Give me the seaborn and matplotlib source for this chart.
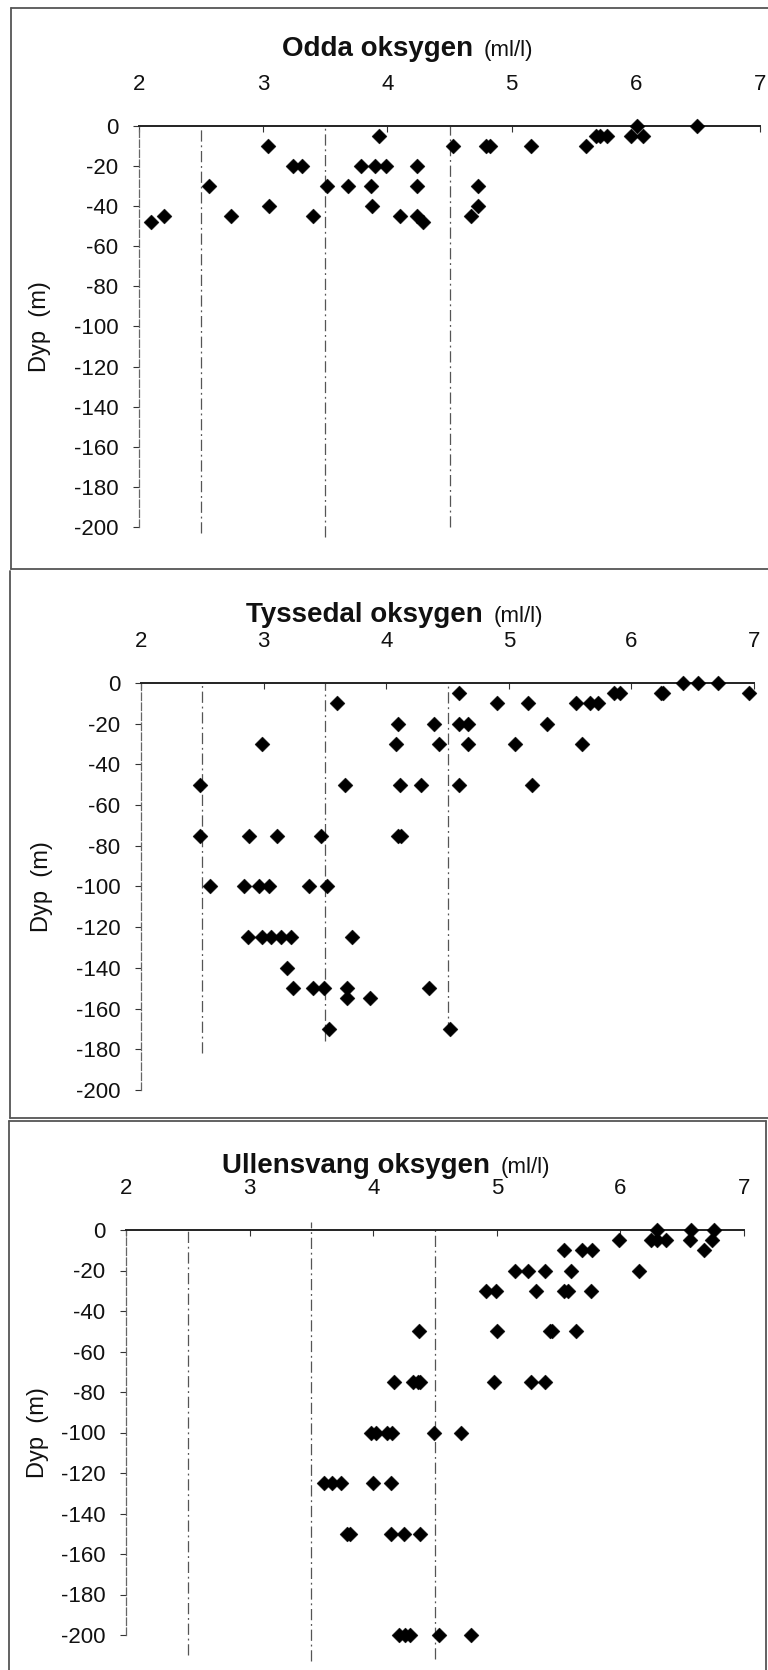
import matplotlib
matplotlib.use("Agg")
import matplotlib.pyplot as plt
from matplotlib.lines import Line2D
import seaborn as sns
import pandas as pd

# ---------------- data ----------------
x_ticks = [2, 3, 4, 5, 6, 7]
y_ticks = list(range(-200, 1, 20))

odda_o2 = [2.10, 2.20, 2.56, 2.74, 3.04, 3.05, 3.24, 3.31, 3.40, 3.51,
           3.68, 3.79, 3.87, 3.88, 3.90, 3.93, 3.99, 4.10, 4.24, 4.24,
           4.24, 4.29, 4.53, 4.67, 4.73, 4.73, 4.79, 4.83, 5.16, 5.60,
           5.68, 5.71, 5.77, 5.96, 6.01, 6.06, 6.49]
odda_depth = [-48, -45, -30, -45, -10, -40, -20, -20, -45, -30,
              -30, -20, -30, -40, -20, -5, -20, -45, -20, -30,
              -45, -48, -10, -45, -30, -40, -10, -10, -10, -10,
              -5, -5, -5, -5, 0, -5, 0]

tyssedal_o2 = [2.48, 2.48, 2.88, 3.11, 2.99, 3.47, 3.60, 3.66, 4.10, 4.08,
               4.11, 4.10, 4.12, 4.28, 4.39, 4.43, 4.59, 4.59, 4.67, 4.67,
               4.59, 4.90, 5.05, 5.16, 5.19, 5.31, 5.55, 5.66, 5.73, 5.60,
               5.86, 5.91, 6.24, 6.26, 6.42, 6.54, 6.71, 6.96,
               2.56, 2.84, 2.96, 3.04, 3.37, 3.52, 2.87, 2.99, 3.06, 3.14,
               3.22, 3.72, 3.19, 3.24, 3.40, 3.49, 3.68, 3.68, 3.87, 4.35,
               3.53, 4.52]
tyssedal_depth = [-50, -75, -75, -75, -30, -75, -10, -50, -20, -30,
                  -50, -75, -75, -50, -20, -30, -5, -20, -20, -30,
                  -50, -10, -30, -10, -50, -20, -10, -10, -10, -30,
                  -5, -5, -5, -5, 0, 0, 0, -5,
                  -100, -100, -100, -100, -100, -100, -125, -125, -125, -125,
                  -125, -125, -140, -150, -150, -150, -150, -155, -155, -150,
                  -170, -170]

ullensvang_o2 = [4.37, 4.17, 4.32, 4.36, 4.38, 4.91, 4.99, 5.00, 4.98, 5.15,
                 5.25, 5.32, 5.28, 5.39, 5.39, 5.43, 5.45, 5.54, 5.54, 5.58,
                 5.60, 5.64, 5.69, 5.77, 5.76, 5.99, 6.15, 6.25, 6.30, 6.30,
                 6.37, 6.57, 6.56, 6.68, 6.74, 6.76,
                 3.98, 4.02, 4.11, 4.15, 4.49, 4.71,
                 3.60, 3.67, 3.74, 4.00, 4.14,
                 3.79, 3.81, 4.14, 4.25, 4.38,
                 4.21, 4.26, 4.30, 4.53, 4.79]
ullensvang_depth = [-50, -75, -75, -75, -75, -30, -30, -50, -75, -20,
                    -20, -30, -75, -75, -20, -50, -50, -10, -30, -30,
                    -20, -50, -10, -10, -30, -5, -20, -5, 0, -5,
                    -5, 0, -5, -10, -5, 0,
                    -100, -100, -100, -100, -100, -100,
                    -125, -125, -125, -125, -125,
                    -150, -150, -150, -150, -150,
                    -200, -200, -200, -200, -200]

guide_levels = [2.5, 3.5, 4.5]
# vertical extent (top, bottom) of the guide lines per panel
odda_guides = [(0, -203), (0, -205), (0, -200)]
tyssedal_guides = [(0, -182), (0, -176), (0, -172)]
ullensvang_guides = [(0, -210), (4, -213), (0, -212)]

titles = ["Odda oksygen", "Tyssedal oksygen", "Ullensvang oksygen"]
unit_text = "(ml/l)"
ylabel_text = "Dyp  (m)"

# ---------------- style ----------------
sns.set_style("white")
plt.rcParams["font.family"] = ["Liberation Sans", "DejaVu Sans"]
plt.rcParams["axes.unicode_minus"] = False

W, H = 768, 1670
fig = plt.figure(figsize=(W / 100, H / 100), dpi=100)
fig.patch.set_facecolor("white")

YLO, YHI = -216, 6
INK = "#111111"
GRID = "#555555"
FRAME = "#555555"


def add_panel(left, right, y0, y200):
    k = (y200 - y0) / 200.0
    top_px = y0 - YHI * k
    bot_px = y200 + (-200 - YLO) * k
    ax = fig.add_axes([left / W, 1 - bot_px / H, (right - left) / W,
                       (bot_px - top_px) / H])
    ax.set_xlim(2, 7)
    ax.set_ylim(YLO, YHI)
    ax.patch.set_alpha(0)
    return ax


spans = [(126, 527), (683, 1090), (1230, 1635)]
panels = [
    dict(ax=add_panel(139, 760, *spans[0]), o2=odda_o2, depth=odda_depth,
         guides=odda_guides, title=titles[0], tx=473, ty=56, ylx=40),
    dict(ax=add_panel(141, 754, *spans[1]), o2=tyssedal_o2, depth=tyssedal_depth,
         guides=tyssedal_guides, title=titles[1], tx=483, ty=622, ylx=42),
    dict(ax=add_panel(126, 744, *spans[2]), o2=ullensvang_o2, depth=ullensvang_depth,
         guides=ullensvang_guides, title=titles[2], tx=490, ty=1173, ylx=38),
]

for p, (y0, y200) in zip(panels, spans):
    ax = p["ax"]
    for lvl, (gt, gb) in zip(guide_levels, p["guides"]):
        ax.vlines(lvl, gb, gt, colors=GRID, linewidth=0.9,
                  linestyles=(0, (9, 3, 1.5, 3)), zorder=1)
    df = pd.DataFrame({"o2": p["o2"], "depth": p["depth"]})
    sns.scatterplot(data=df, x="o2", y="depth", ax=ax, marker="D", s=58,
                    color="black", edgecolor="black", linewidth=0.3,
                    clip_on=False, zorder=3, legend=False)
    ax.set_xlabel("")
    ax.set_ylabel("")

    for side in ("right", "bottom"):
        ax.spines[side].set_visible(False)
    ax.spines["top"].set_position(("data", 0))
    ax.spines["top"].set_color("#222222")
    ax.spines["top"].set_linewidth(1.4)
    ax.spines["left"].set_bounds(-200, 0)
    ax.spines["left"].set_color("#666666")
    ax.spines["left"].set_linewidth(0.9)
    ax.spines["left"].set_linestyle((0, (6, 2)))

    ax.set_xticks(x_ticks)
    ax.set_yticks(y_ticks)
    ax.xaxis.set_ticks_position("top")
    ax.tick_params(axis="x", which="both", top=True, bottom=False,
                   labeltop=True, labelbottom=False, direction="in",
                   length=4, width=0.8, color="#333333", pad=22,
                   labelsize=16, labelcolor=INK)
    ax.tick_params(axis="y", which="both", left=True, right=False,
                   direction="out", length=4, width=0.8, color="#333333",
                   pad=11, labelsize=16, labelcolor=INK)
    ax.grid(False)

    # titles: bold name followed by the unit in regular weight
    fig.text(p["tx"] / W, 1 - p["ty"] / H, p["title"], ha="right",
             va="baseline", fontsize=20, fontweight="bold", color=INK)
    fig.text((p["tx"] + 11) / W, 1 - p["ty"] / H, unit_text, ha="left",
             va="baseline", fontsize=16, color=INK)
    # y label centred on the 0..-200 span
    fig.text(p["ylx"] / W, 1 - ((y0 + y200) / 2) / H, ylabel_text,
             rotation=90, ha="center", va="center", fontsize=17, color=INK)


# scanned panel frames
def frame_line(xs, ys):
    fig.add_artist(Line2D([x / W for x in xs], [1 - y / H for y in ys],
                          color=FRAME, linewidth=1.3))


frame_line([11, 11], [8, 569])
frame_line([11, 790], [8, 8])
frame_line([11, 790], [569, 569])
frame_line([10, 10], [571, 1118])
frame_line([10, 790], [1118, 1118])
frame_line([9, 9], [1121, 1670])
frame_line([9, 766], [1121, 1121])
frame_line([766, 766], [1121, 1670])

fig.savefig("out.png", dpi=100, facecolor="white")
